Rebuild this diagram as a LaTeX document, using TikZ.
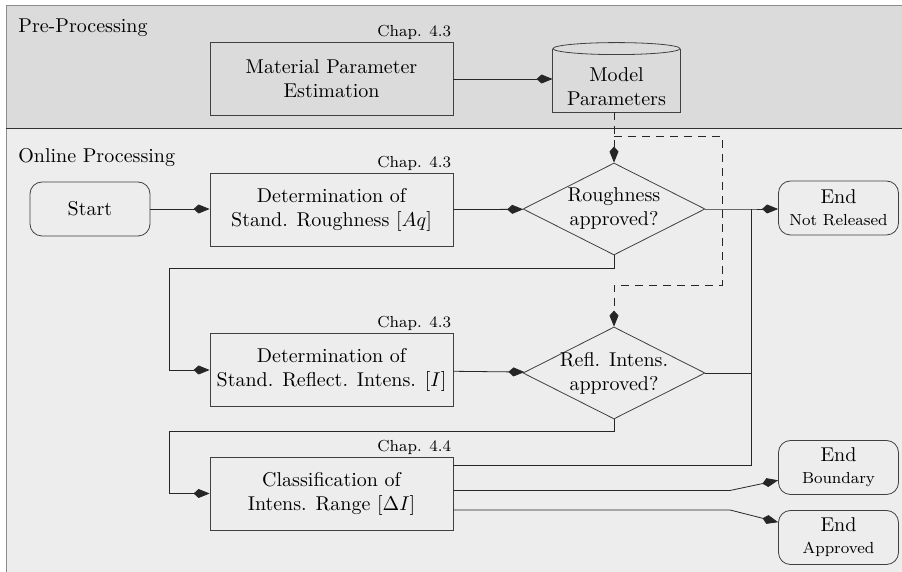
\documentclass[tikz,border=0pt]{standalone}
\usetikzlibrary{arrows.meta,positioning,shapes.geometric,calc}

\begin{document}
\begin{tikzpicture}[
        x=0.5pt, y=-0.5pt,
        box/.style={draw=black!75, align=center, minimum width=121.5pt,
          minimum height=36.5pt, inner sep=2pt},
        decision/.style={draw=black!75, diamond, align=center, aspect=2,
          inner xsep=-3pt, inner ysep=0pt, minimum width=91pt, minimum height=46pt},
        terminal/.style={draw=black!75, rounded corners=6pt, align=center,
          minimum width=60pt, minimum height=27pt, inner sep=1pt},
        chap/.style={font=\footnotesize, anchor=south east, inner sep=1pt},
        band/.style={anchor=base west, inner sep=0pt},
        arr/.style={-{Kite[length=8pt,width=4.5pt,inset=2.5pt]}, black!85},
        line/.style={black!85},
        dashline/.style={black!85, dash pattern=on 4pt off 3pt}
      ]
        \useasboundingbox (0,0) rectangle (902,572);
        % background bands
        \fill[black!14] (6,5) rectangle (902,128);
        \fill[black!7] (6,128) rectangle (902,572);
        \draw[black!45] (902,5) -- (6,5) -- (6,572);
        \draw[black!80] (6,128) -- (902,128);
        \node[band] (pre) at (18,33) {Pre-Processing};
        \node[band] (online) at (18,163) {Online Processing};

        % pre-processing
        \node[box] (mpe) at (331.5,79) {Material Parameter\\Estimation};
        \node[minimum width=63.5pt, minimum height=31.5pt, inner sep=0pt,
          label={[align=center, yshift=-3pt]center:{Model\\Parameters}}] (model) at (616.5,80.5) {};
        \draw[black!75] (model.north west) -- (model.south west) -- (model.south east) -- (model.north east);
        \draw[black!75, fill=black!14] (model.north) ellipse [x radius=31.75pt, y radius=3pt];
        \node[chap] (chapa) at (mpe.north east) {Chap. 4.3};

        % online processing
        \node[terminal] (start) at (90,209) {Start};
        \node[box] (detaq) at (331.5,210) {Determination of\\Stand. Roughness $[Aq]$};
        \node[decision] (rough) at (614,209) {Roughness\\approved?};
        \node[terminal] (endnr) at (838.5,208) {End\\[-1pt]{\footnotesize Not Released}};
        \node[box] (deti) at (331.5,370) {Determination of\\Stand. Reflect. Intens. $[I]$};
        \node[decision] (refl) at (614,373) {Refl. Intens.\\approved?};
        \node[box] (classify) at (331.5,493.5) {Classification of\\Intens. Range $[\Delta I]$};
        \node[terminal] (endbd) at (838.5,467.5) {End\\[-1pt]{\footnotesize Boundary}};
        \node[terminal] (endap) at (838.5,537.5) {End\\[-1pt]{\footnotesize Approved}};
        \node[chap] (chapb) at (detaq.north east) {Chap. 4.3};
        \node[chap] (chapc) at (deti.north east) {Chap. 4.3};
        \node[chap] (chapd) at (classify.north east) {Chap. 4.4};

        \coordinate (dsplit) at (614,136);
        \coordinate (dturn) at (722,285);
        \coordinate (jn) at (751,209);
        \coordinate (fork) at (730,490);

        \draw[arr] (mpe.east) -- (mpe.east -| model.west);
        \draw[arr, dashline] (model.south -| rough.north) -- (rough.north);
        \draw[arr, dashline] (dsplit) -| (dturn) -| (refl.north);
        \draw[arr] (start) -- (start -| detaq.west);
        \draw[arr] (detaq) -- (rough);
        \draw[arr] (rough.east) -- (jn) -- (jn -| endnr.west);
        \draw[arr] (rough.south) -- ++(0,13) -| ([xshift=-20pt]deti.west) -- (deti.west);
        \draw[arr] (deti) -- (refl);
        \draw[line] (refl.east) -- (refl.east -| jn);
        \draw[arr] (refl.south) -- ++(0,12) -| ([xshift=-20pt]classify.west) -- (classify.west);
        \draw[line] ([yshift=14pt]classify.east) -| (jn);
        \draw[arr] ([yshift=1.5pt]classify.east) -- ([yshift=1.5pt]classify.east -| fork) -- (endbd);
        \draw[arr] ([yshift=-8.25pt]classify.east) -- ([yshift=-8.25pt]classify.east -| fork) -- (endap);
      \end{tikzpicture}
\end{document}
